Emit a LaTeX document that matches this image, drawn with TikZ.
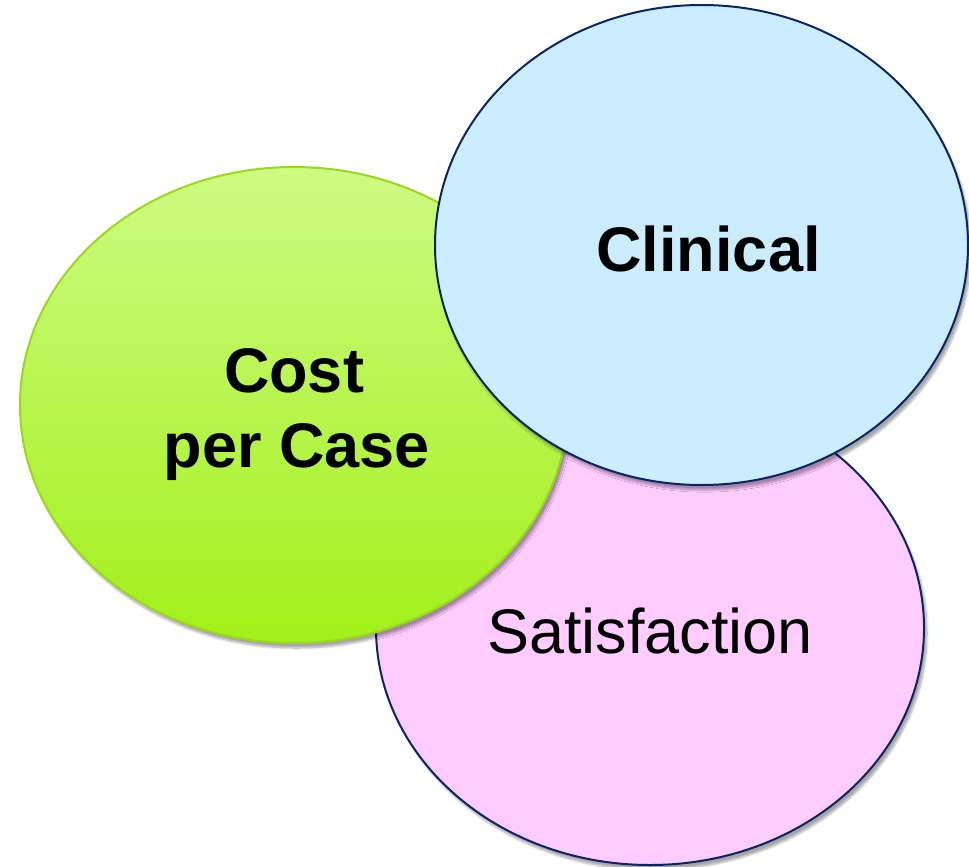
\documentclass[tikz,border=0pt]{standalone}
\usepackage{fontspec}
\setmainfont{Liberation Sans}
\usetikzlibrary{shapes.geometric,shadows.blur}
\definecolor{navy}{HTML}{0B2463}
\definecolor{pinkfill}{HTML}{FFCCFF}
\definecolor{bluefill}{HTML}{CCECFF}
\definecolor{greentop}{HTML}{CEFA82}
\definecolor{greenbot}{HTML}{A2F01A}
\definecolor{greenline}{HTML}{9AD81A}
\begin{document}
\begin{tikzpicture}[x=1pt,y=-1pt,
  bubble/.style={ellipse, inner sep=0pt, line width=2pt,
    blur shadow={shadow xshift=3pt, shadow yshift=-5pt, shadow blur steps=10, shadow opacity=35}},
  bigtext/.style={anchor=base, inner sep=0pt, font=\fontsize{63}{75}\selectfont}]
\useasboundingbox (0,0) rectangle (969,867);
\node[bubble, draw=navy, fill=pinkfill, minimum width=548pt, minimum height=474pt] (sat) at (650,628) {};
\node[bubble, draw=greenline, top color=greentop, bottom color=greenbot, minimum width=548pt, minimum height=476pt] (cost) at (294,405) {};
\node[bubble, draw=navy, fill=bluefill, minimum width=533pt, minimum height=480pt] (clin) at (701.5,245) {};
\node[bigtext, font=\fontsize{63}{75}\selectfont\bfseries] (clinT) at (708.5,271) {Clinical};
\node[bigtext, font=\fontsize{63}{75}\selectfont\bfseries] (costT) at (294,392) {Cost};
\node[bigtext, font=\fontsize{63}{75}\selectfont\bfseries] (caseT) at (297,467) {per Case};
\node[bigtext] (satT) at (650,653) {Satisfaction};
\end{tikzpicture}
\end{document}
